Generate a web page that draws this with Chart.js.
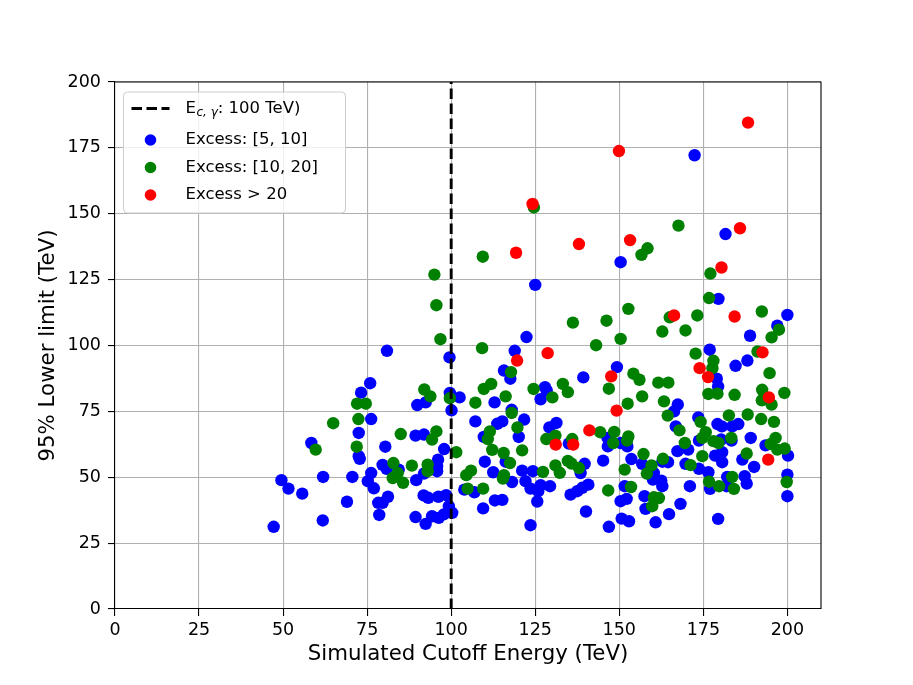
<!DOCTYPE html>
<html>
<head>
<meta charset="utf-8">
<script src="https://cdn.jsdelivr.net/npm/chart.js@4/dist/chart.umd.min.js"></script>
<style>
  html, body { margin: 0; padding: 0; background: #fff; }
  #wrap { width: 913px; height: 685px; }
</style>
</head>
<body>
<div id="wrap"><canvas id="limitChart" width="913" height="685"></canvas></div>
<script>
// Points: [cutoff energy (TeV), 95% lower limit (TeV)]
const excess5to10 = [
  [47.2,31.2],[49.5,48.9],[51.6,45.7],[55.7,43.8],[58.4,63.0],[61.8,33.6],[61.9,50.1],[69.0,40.7],
  [70.6,50.1],[72.5,66.8],[72.5,58.0],[72.8,57.0],[73.2,82.1],[75.2,48.5],[75.9,85.7],[76.2,72.1],
  [76.2,51.6],[77.0,45.8],[78.3,40.3],[78.6,35.7],[79.6,54.7],[79.6,40.3],[80.4,61.6],[80.8,53.2],
  [80.9,98.0],[81.2,42.6],[84.4,52.9],[89.4,65.8],[89.4,34.9],[89.6,48.9],[89.9,77.4],[91.8,43.1],
  [91.9,66.2],[91.9,51.4],[92.4,78.4],[92.4,32.3],[93.2,42.2],[94.3,35.2],[95.8,54.2],[95.8,52.3],
  [96.1,56.7],[96.2,42.6],[96.3,34.6],[97.8,35.9],[97.9,60.7],[98.5,43.2],[99.3,39.0],[99.5,95.5],
  [99.6,82.0],[100.1,75.4],[100.3,36.5],
  [102.5,80.3],[103.9,45.3],[106.9,44.3],[107.2,71.2],[109.5,38.2],[109.7,65.3],[110.0,55.9],
  [112.5,51.9],[112.9,78.4],[113.0,41.2],[113.7,70.3],[115.2,71.2],[115.2,41.4],[115.7,90.5],
  [116.2,55.9],[117.6,87.4],[118.0,75.6],[118.1,48.2],[118.9,98.0],[120.1,65.3],[121.1,52.5],
  [121.7,71.9],[122.1,48.5],[122.4,103.2],[123.6,45.7],[123.6,31.8],[124.3,52.3],[125.0,123.0],
  [125.6,40.8],[125.9,44.7],[126.6,79.6],[126.6,47.0],[127.9,84.2],[128.4,83.0],[129.2,68.9],
  [129.4,46.6],[131.3,70.6],[135.0,62.8],[135.5,43.4],
  [137.5,44.7],[138.5,51.6],[139.0,46.0],[139.3,87.9],[139.7,55.1],[140.1,37.0],[140.8,47.2],
  [145.2,56.3],[146.5,64.9],[146.6,61.7],[146.9,31.2],[149.3,91.8],[150.4,131.6],[150.4,63.0],
  [150.4,40.9],[150.7,34.3],[151.6,46.6],[152.2,41.8],[152.4,61.7],[152.9,33.3],[153.6,56.9],
  [156.8,55.1],[157.5,42.8],[157.8,38.0],[160.0,49.1],[160.3,51.6],[160.8,32.9],[162.5,48.7],
  [162.8,55.9],[162.8,46.6],[164.5,55.7],[164.8,36.0],[166.3,75.0],[166.8,69.3],
  [167.3,59.9],[167.4,77.6],[168.2,39.9],[169.7,55.1],[170.5,60.5],[171.0,46.6],[172.4,172.2],
  [173.5,72.7],[173.7,63.9],[173.7,53.2],[176.5,51.9],[176.9,98.4],[177.0,45.6],[178.5,58.2],
  [179.0,87.4],[179.2,70.2],[179.4,84.5],[179.4,34.2],[179.5,117.7],[180.3,64.3],[180.5,69.3],
  [180.6,59.5],[180.6,55.7],[181.6,142.3],[181.9,46.6],[182.1,50.1],[183.4,63.9],[183.6,69.3],
  [184.6,92.3],[185.4,70.2],[186.6,56.7],[187.3,50.4],[187.9,47.6],[188.1,94.3],[188.9,103.7],
  [189.1,64.9],[190.1,53.9],[193.5,62.1],[197.0,107.5],[200.0,111.6],[200.2,58.2],[200.0,51.0],
  [200.0,42.8]
];

const excess10to20 = [
  [59.7,60.5],[64.9,70.5],[71.9,61.6],[72.0,77.9],[72.4,72.1],[74.6,77.9],[82.6,49.7],[82.8,55.4],
  [84.1,51.6],[85.0,66.4],[85.7,47.9],[88.3,54.4],[92.0,83.3],[93.0,54.8],[93.0,52.3],[93.8,80.7],
  [94.3,64.3],[95.0,126.9],[95.6,115.3],[95.6,67.4],[96.8,102.4],[99.6,80.0],[101.5,59.5],
  [104.5,50.8],[104.9,45.7],[105.9,52.5],[107.2,78.3],[109.2,99.0],[109.4,133.7],[109.5,45.7],
  [109.7,83.5],[110.9,64.5],[111.5,67.4],[111.9,85.4],[112.2,60.4],[115.4,49.5],[115.6,59.2],
  [115.7,50.8],[116.2,80.7],[117.5,55.4],[117.8,89.9],[118.0,74.4],[119.7,68.9],[121.1,60.2],
  [124.5,83.5],[124.6,152.4],[127.3,52.0],[128.3,64.5],[130.1,80.3],[131.0,65.8],[131.0,54.5],
  [132.3,51.7],[133.2,85.4],[134.7,82.3],[134.7,56.2],[135.8,55.2],[136.0,64.5],[136.2,108.7],
  [138.0,53.5],[143.1,100.1],[144.3,67.1],[146.2,109.4],[146.7,45.0],[146.9,83.6],[148.2,63.0],
  [148.5,67.2],[150.4,102.5],[151.6,52.9],[152.3,63.9],[152.5,77.9],[152.7,113.9],[152.7,65.5],
  [153.5,46.3],[154.2,89.3],[156.0,87.0],[156.6,134.4],[156.8,80.7],[157.2,58.8],[158.2,51.4],
  [158.4,136.9],[159.6,54.5],[159.8,39.0],[160.3,42.4],[161.6,85.9],[161.8,42.1],[162.8,105.3],
  [163.0,57.0],[163.3,78.8],[164.4,73.4],[164.6,85.9],[165.0,110.7],
  [167.6,145.5],[167.9,67.8],[169.5,63.0],[169.7,105.7],[171.2,54.6],[172.7,96.9],[173.2,111.4],
  [174.2,71.0],[174.7,64.9],[174.7,58.0],[175.7,67.1],[176.5,81.6],[176.7,118.0],[176.7,48.3],
  [177.1,127.3],[177.7,91.4],[178.0,94.2],[178.0,63.7],[179.2,81.7],[179.5,63.0],[179.7,46.6],
  [182.6,73.5],[183.3,64.9],[183.6,50.1],[184.1,45.6],[184.3,81.3],[187.9,59.0],[188.2,73.8],
  [191.1,97.7],[192.2,72.1],[192.4,112.9],[192.4,79.2],[192.5,83.2],[194.7,89.5],[195.0,62.6],
  [195.3,103.1],[195.3,77.6],[196.0,71.0],[196.5,64.9],[197.0,60.5],[197.5,106.0],[199.1,82.0],
  [199.2,60.9],[199.8,48.2]
];

const excessOver20 = [
  [119.3,135.2],[119.6,94.3],[124.2,153.7],[128.7,97.1],[131.1,62.4],[136.3,62.4],[138.0,138.5],
  [141.1,67.8],[147.6,88.3],[149.2,75.3],[149.9,173.8],[153.2,140.0],[166.3,111.4],[173.9,91.4],
  [176.4,88.0],[180.4,129.6],[184.3,111.0],[185.9,144.5],[188.3,184.6],[192.6,97.4],[194.3,56.7],
  [194.5,80.3]
];

const cutoffMarker = 100;          // TeV, vertical dashed line
const xTicks = [0, 25, 50, 75, 100, 125, 150, 175, 200];
const yTicks = [0, 25, 50, 75, 100, 125, 150, 175, 200];

const FONT = "'DejaVu Sans', sans-serif";

function toPoints(list) {
  return list.map(p => ({ x: p[0], y: p[1] }));
}

// top and right spines + legend box drawn on top
const framePlugin = {
  id: 'frame',
  afterDraw(chart) {
    const ctx = chart.ctx;
    const a = chart.chartArea;
    ctx.save();
    ctx.strokeStyle = '#000';
    ctx.lineWidth = 1.1;
    ctx.beginPath();
    ctx.moveTo(a.left, a.top);
    ctx.lineTo(a.right, a.top);
    ctx.lineTo(a.right, a.bottom);
    ctx.stroke();

    // legend
    const bx = a.left + 8.5, by = a.top + 10, bw = 222, bh = 121, r = 4;
    ctx.beginPath();
    ctx.moveTo(bx + r, by);
    ctx.arcTo(bx + bw, by, bx + bw, by + bh, r);
    ctx.arcTo(bx + bw, by + bh, bx, by + bh, r);
    ctx.arcTo(bx, by + bh, bx, by, r);
    ctx.arcTo(bx, by, bx + bw, by, r);
    ctx.closePath();
    ctx.fillStyle = 'rgba(255,255,255,0.8)';
    ctx.fill();
    ctx.strokeStyle = '#cccccc';
    ctx.lineWidth = 1;
    ctx.stroke();

    const rows = [by + 16.5, by + 48, by + 75.5, by + 103];
    const mx = bx + 27, tx = bx + 62;
    ctx.textBaseline = 'middle';
    ctx.textAlign = 'left';
    ctx.fillStyle = '#000';

    // dashed line entry
    ctx.save();
    ctx.setLineDash([10.5, 4.5]);
    ctx.lineWidth = 2.9;
    ctx.strokeStyle = '#000';
    ctx.beginPath();
    ctx.moveTo(bx + 8, rows[0]);
    ctx.lineTo(bx + 46, rows[0]);
    ctx.stroke();
    ctx.restore();

    ctx.font = '16.5px ' + FONT;
    ctx.fillText('E', tx, rows[0]);
    let cx = tx + ctx.measureText('E').width;
    ctx.font = 'italic 12px ' + FONT;
    ctx.fillText('c, \u03B3', cx + 0.5, rows[0] + 4);
    cx += ctx.measureText('c, \u03B3').width + 0.5;
    ctx.font = '16.5px ' + FONT;
    ctx.fillText(': 100 TeV)', cx, rows[0]);

    const entries = [
      ['#0000ff', 'Excess: [5, 10]'],
      ['#008000', 'Excess: [10, 20]'],
      ['#ff0000', 'Excess > 20']
    ];
    entries.forEach((e, i) => {
      const y = rows[i + 1];
      ctx.fillStyle = e[0];
      ctx.beginPath();
      ctx.arc(mx, y, 5.8, 0, Math.PI * 2);
      ctx.fill();
      ctx.fillStyle = '#000';
      ctx.fillText(e[1], tx, y);
    });
    ctx.restore();
  }
};

const tickFont = { family: FONT, size: 17.5 };
const titleFont = { family: FONT, size: 21.3 };

new Chart(document.getElementById('limitChart'), {
  type: 'scatter',
  data: {
    datasets: [
      {
        type: 'line',
        label: 'Ec,γ: 100 TeV)',
        data: [{ x: cutoffMarker, y: 0 }, { x: cutoffMarker, y: 200 }],
        borderColor: '#000',
        borderWidth: 2.9,
        borderDash: [10.5, 4.5],
        pointRadius: 0,
        fill: false,
        order: 0
      },
      {
        label: 'Excess: [5, 10]',
        data: toPoints(excess5to10),
        backgroundColor: '#0000ff',
        borderWidth: 0,
        pointRadius: 6.2,
        order: 3
      },
      {
        label: 'Excess: [10, 20]',
        data: toPoints(excess10to20),
        backgroundColor: '#008000',
        borderWidth: 0,
        pointRadius: 6.2,
        order: 2
      },
      {
        label: 'Excess > 20',
        data: toPoints(excessOver20),
        backgroundColor: '#ff0000',
        borderWidth: 0,
        pointRadius: 6.2,
        order: 1
      }
    ]
  },
  options: {
    responsive: false,
    animation: false,
    devicePixelRatio: 1,
    layout: { padding: { left: 0, top: 82, right: 92, bottom: 0 } },
    plugins: {
      legend: { display: false },
      tooltip: { enabled: false }
    },
    scales: {
      x: {
        type: 'linear',
        min: 0,
        max: 210,
        afterBuildTicks: scale => { scale.ticks = xTicks.map(v => ({ value: v })); },
        afterFit: scale => { scale.height = 76; },
        ticks: { color: '#000', font: tickFont, padding: 4, maxRotation: 0 },
        grid: { color: '#b0b0b0', lineWidth: 1.1, tickColor: '#000', tickLength: 7 },
        border: { color: '#000', width: 1.1 },
        title: {
          display: true,
          text: 'Simulated Cutoff Energy (TeV)',
          color: '#000',
          font: titleFont,
          padding: { top: 0, bottom: 17.5 }
        }
      },
      y: {
        type: 'linear',
        min: 0,
        max: 200,
        afterBuildTicks: scale => { scale.ticks = yTicks.map(v => ({ value: v })); },
        afterFit: scale => { scale.width = 115; },
        ticks: { color: '#000', font: tickFont, padding: 7 },
        grid: { color: '#b0b0b0', lineWidth: 1.1, tickColor: '#000', tickLength: 7 },
        border: { color: '#000', width: 1.1 },
        title: {
          display: true,
          text: '95% Lower limit (TeV)',
          color: '#000',
          font: titleFont,
          padding: { top: 35.5, bottom: 0 }
        }
      }
    }
  },
  plugins: [framePlugin]
});
</script>
</body>
</html>
